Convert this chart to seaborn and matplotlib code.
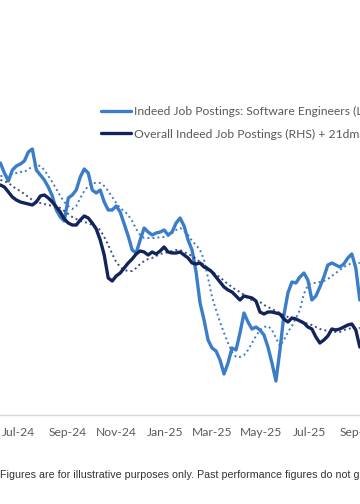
import matplotlib
matplotlib.use("Agg")
import matplotlib.pyplot as plt
import pandas as pd
import seaborn as sns

# ---------------- data ----------------
dates = pd.date_range("2024-06-09", periods=91, freq="5D")

# Indeed Job Postings: Software Engineers (LHS)
swe = [73.7, 72.7, 71.9, 73.0, 73.4, 73.6, 73.9, 74.8, 75.1, 73.0,
       72.5, 72.0, 71.3, 70.4, 69.0, 68.3, 67.9, 70.2, 70.5, 71.0,
       72.3, 73.1, 72.7, 71.0, 70.7, 71.0, 69.8, 69.0, 69.0, 69.4,
       68.8, 67.6, 66.4, 65.0, 64.7, 66.0, 67.2, 66.8, 66.5, 66.7,
       66.8, 67.0, 66.5, 66.8, 67.7, 68.2, 67.4, 66.0, 65.0, 62.8,
       59.7, 58.0, 56.0, 55.2, 54.9, 54.0, 52.6, 53.7, 55.2, 55.0,
       56.7, 58.7, 57.8, 57.1, 57.3, 57.0, 56.5, 55.3, 53.7, 51.9,
       55.0, 58.5, 60.7, 61.8, 61.7, 62.3, 62.7, 62.0, 60.0, 60.4,
       61.3, 62.3, 63.5, 63.7, 63.5, 63.3, 63.6, 64.2, 64.6, 63.2,
       60.0]
# Software Engineers 21dma (LHS)
swe_ma = [72.4, 72.4, 72.5, 72.6, 72.7, 72.8, 72.8, 73.1, 73.3, 73.5,
          73.4, 73.0, 72.4, 71.8, 71.1, 70.4, 69.8, 69.4, 69.1, 69.4,
          70.2, 70.9, 71.4, 71.7, 71.7, 71.7, 71.4, 70.9, 70.3, 69.7,
          69.2, 68.9, 68.5, 67.9, 67.1, 66.5, 66.2, 66.2, 66.2, 66.2,
          66.3, 66.3, 66.4, 66.7, 67.0, 67.2, 66.9, 66.5, 65.9, 65.5,
          65.0, 64.0, 62.2, 60.3, 59.0, 57.8, 56.7, 55.7, 54.8, 54.3,
          54.3, 54.5, 55.0, 55.7, 56.4, 57.0, 57.3, 57.4, 57.0, 56.2,
          55.4, 56.0, 56.8, 57.4, 58.2, 59.0, 60.6, 61.5, 61.7, 61.7,
          61.8, 61.9, 62.1, 62.4, 62.7, 63.0, 63.3, 63.5, 63.7, 63.7,
          63.7]
# Overall Indeed Job Postings (RHS)
overall = [121.5, 121.3, 120.8, 120.3, 120.0, 119.8, 119.7, 119.6, 119.5, 119.8,
           120.4, 120.5, 120.2, 119.8, 119.3, 118.8, 118.1, 117.7, 117.5, 117.5,
           118.0, 118.4, 118.2, 117.7, 117.1, 116.0, 114.5, 112.2, 111.9, 112.4,
           112.7, 113.2, 113.7, 114.1, 114.6, 114.9, 114.8, 114.5, 114.8, 114.6,
           114.9, 115.3, 114.8, 114.7, 114.7, 114.8, 114.5, 114.2, 113.7, 113.6,
           113.7, 113.3, 113.1, 112.8, 112.3, 111.8, 111.3, 111.0, 110.8, 110.4,
           110.0, 110.4, 110.3, 110.2, 109.9, 108.8, 108.6, 108.8, 108.8, 108.7,
           108.6, 108.1, 107.8, 108.2, 108.1, 107.9, 107.7, 107.3, 107.1, 106.3,
           105.7, 106.0, 106.4, 107.1, 107.0, 107.1, 107.3, 107.5, 107.6, 107.0,
           105.3]
# Overall 21dma (RHS)
overall_ma = [122.0, 121.9, 121.7, 121.4, 121.1, 120.9, 120.6, 120.3, 120.0, 119.8,
              119.7, 119.6, 119.5, 119.4, 119.3, 119.2, 118.9, 118.6, 118.3, 118.1,
              117.9, 117.8, 117.7, 117.5, 117.3, 117.0, 116.3, 115.5, 114.6, 113.8,
              113.3, 113.0, 112.9, 112.9, 113.2, 113.6, 113.9, 114.1, 114.2, 114.4,
              114.6, 114.7, 114.8, 114.9, 115.0, 115.0, 114.8, 114.6, 114.4, 114.1,
              113.8, 113.5, 113.2, 112.9, 112.5, 112.3, 111.9, 111.6, 111.3, 111.0,
              110.8, 110.5, 110.2, 110.0, 109.9, 109.8, 109.5, 109.3, 109.1, 108.9,
              108.7, 108.5, 108.3, 108.2, 108.1, 107.9, 107.8, 107.6, 107.5, 107.3,
              107.1, 107.0, 106.9, 106.9, 106.8, 106.8, 107.0, 107.1, 107.2, 107.2,
              107.2]

label_swe = "Indeed Job Postings: Software Engineers (LHS) + 21dma"
label_all = "Overall Indeed Job Postings (RHS) + 21dma"
tick_dates = pd.date_range("2024-07-01", "2025-09-01", freq="2MS")
tick_labels = [d.strftime("%b-%y") for d in tick_dates]
footer = ("Figures are for illustrative purposes only. Past performance figures "
          "do not guarantee future results.")

# ---------------- styling ----------------
LIGHT = "#3b7dc8"
DARK = "#13235c"
GRID = "#d9d9d9"
TXT = "#595959"

sns.set_style("white")
plt.rcParams["font.family"] = ["Lato", "DejaVu Sans"]

df = pd.DataFrame({"date": dates, "swe": swe, "swe_ma": swe_ma,
                   "overall": overall, "overall_ma": overall_ma})

fig = plt.figure(figsize=(3.6, 5.04), dpi=100)
ax = fig.add_axes([0.0, 89 / 504, 1.0, 315 / 504])
ax2 = ax.twinx()

sns.lineplot(data=df, x="date", y="swe_ma", ax=ax, color=LIGHT, lw=1.4,
             linestyle=(0, (1, 1.6)), legend=False)
sns.lineplot(data=df, x="date", y="swe", ax=ax, color=LIGHT, lw=2.4,
             label=label_swe)
sns.lineplot(data=df, x="date", y="overall_ma", ax=ax2, color=DARK, lw=1.4,
             linestyle=(0, (1, 1.6)), alpha=0.8, legend=False)
sns.lineplot(data=df, x="date", y="overall", ax=ax2, color=DARK, lw=2.4,
             label=label_all)

ax.set_ylim(48.5, 80)
ax2.set_ylim(98.5, 130)
ax.set_xlim(pd.Timestamp("2024-06-08 12:00"), pd.Timestamp("2025-09-02 06:00"))
ax.set_xticks(tick_dates)
ax.set_xticklabels(tick_labels)
for a in (ax, ax2):
    a.set_xlabel("")
    a.set_ylabel("")
    a.grid(False)
    for s in ("top", "left", "right"):
        a.spines[s].set_visible(False)
ax2.spines["bottom"].set_visible(False)
ax.spines["bottom"].set_color(GRID)
ax.spines["bottom"].set_linewidth(1.0)
ax.tick_params(axis="x", direction="out", length=3.5, width=0.8, color=GRID,
               labelcolor=TXT, labelsize=8.7, pad=5)
ax.tick_params(axis="y", left=False, labelleft=False)
ax2.tick_params(axis="y", right=False, labelright=False)

h1, l1 = ax.get_legend_handles_labels()
h2, l2 = ax2.get_legend_handles_labels()
for a in (ax, ax2):
    if a.get_legend() is not None:
        a.get_legend().remove()
fig.legend(h1 + h2, l1 + l2, loc="upper left",
           bbox_to_anchor=(101 / 360, (504 - 106) / 504),
           frameon=False, fontsize=8.7, labelcolor=TXT, handlelength=2.5,
           handletextpad=0.25, labelspacing=0.95, borderpad=0, borderaxespad=0)

fig.text(0.001, (504 - 475) / 504, footer, ha="left", va="center",
         fontsize=7.7, color="#333333", family=["Liberation Sans", "DejaVu Sans"])

fig.savefig("out.png", dpi=100)
